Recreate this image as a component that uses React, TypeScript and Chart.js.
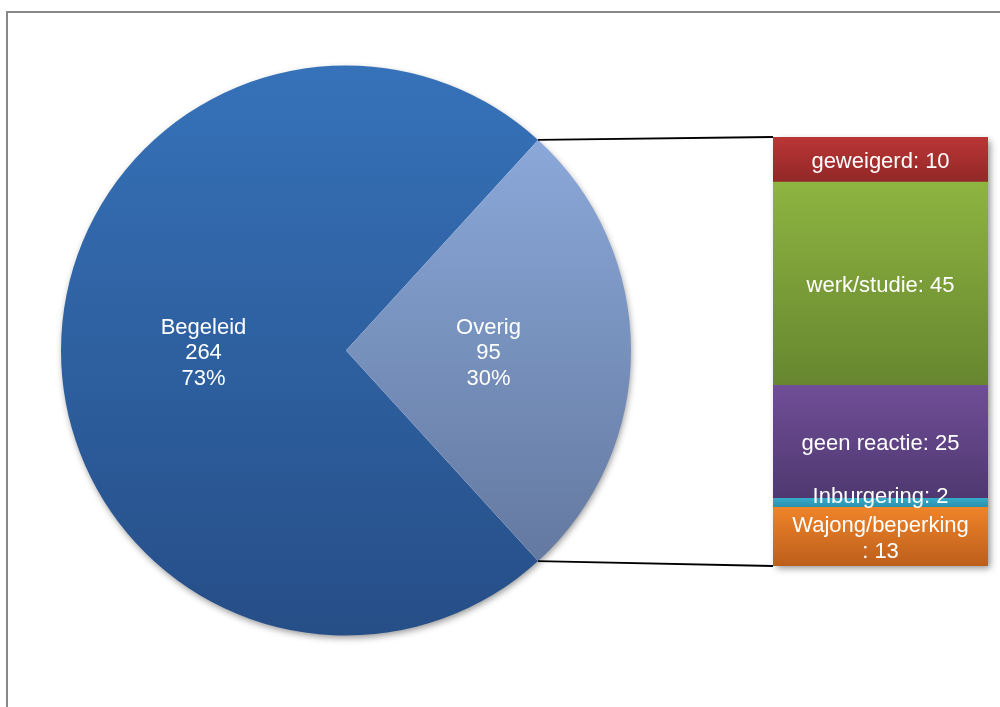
import React, { useEffect, useRef } from 'react';
import { Chart, registerables } from 'chart.js';

Chart.register(...registerables);

// ---- data ----
const pieLabels = ['Begeleid', 'Overig'];
const pieValues = [264, 95];
const piePercentLabels = ['73%', '30%'];

// stacked from bottom to top
const barLabels = ['Wajong/beperking', 'Inburgering', 'geen reactie', 'werk/studie', 'geweigerd'];
const barValues = [13, 2, 25, 45, 10];

// ---- styles ----
const pieColors = [
  ['#3672b9', '#264e87'],
  ['#8aa8d9', '#6479a0'],
];
const barColors = [
  ['#ef842a', '#bc5e1b'],
  ['#35abc9', '#2a90ac'],
  ['#704e97', '#4f3870'],
  ['#8eb441', '#67862f'],
  ['#bb3636', '#922727'],
];
const FONT = "'Liberation Sans', Arial, sans-serif";
const W = 1000;
const H = 707;
const TEXT_DY = 2.5;

const pieTotal = pieValues.reduce((a, b) => a + b, 0);
const barTotal = barValues.reduce((a, b) => a + b, 0);

export default function App() {
  const pieRef = useRef<HTMLCanvasElement | null>(null);
  const barRef = useRef<HTMLCanvasElement | null>(null);

  useEffect(() => {
    if (!pieRef.current || !barRef.current) return;

    const pieShadow = {
      id: 'pieShadow',
      beforeDatasetsDraw(chart: any) {
        const arc = chart.getDatasetMeta(0).data[0];
        if (!arc) return;
        const ctx = chart.ctx;
        ctx.save();
        ctx.shadowColor = 'rgba(0,0,0,0.45)';
        ctx.shadowBlur = 7;
        ctx.shadowOffsetX = 1;
        ctx.shadowOffsetY = 3;
        ctx.fillStyle = '#ffffff';
        ctx.beginPath();
        ctx.arc(arc.x, arc.y, arc.outerRadius - 1, 0, Math.PI * 2);
        ctx.fill();
        ctx.restore();
      },
    };

    const pieLabelPlugin = {
      id: 'pieLabels',
      afterDatasetsDraw(chart: any) {
        const ctx = chart.ctx;
        const meta = chart.getDatasetMeta(0);
        ctx.save();
        ctx.font = `22px ${FONT}`;
        ctx.fillStyle = '#ffffff';
        ctx.textAlign = 'center';
        ctx.textBaseline = 'middle';
        meta.data.forEach((arc: any, i: number) => {
          const mid = (arc.startAngle + arc.endAngle) / 2;
          const r = arc.outerRadius * 0.5;
          const cx = arc.x + Math.cos(mid) * r;
          const cy = arc.y + Math.sin(mid) * r + TEXT_DY;
          const lines = [pieLabels[i], String(pieValues[i]), piePercentLabels[i]];
          const lh = 25.5;
          lines.forEach((t, k) => {
            ctx.fillText(t, cx, cy + (k - (lines.length - 1) / 2) * lh);
          });
        });
        ctx.restore();
      },
    };

    const pieGradient = (context: any) => {
      const chart = context.chart;
      const area = chart.chartArea;
      const i = context.dataIndex;
      if (!area) return pieColors[i][0];
      const cy = (area.top + area.bottom) / 2;
      const r = Math.min(area.right - area.left, area.bottom - area.top) / 2;
      let y0 = cy - r;
      let y1 = cy + r;
      if (i === 1) {
        const half = (pieValues[1] / pieTotal) * Math.PI;
        y0 = cy - r * Math.sin(half);
        y1 = cy + r * Math.sin(half);
      }
      const g = chart.ctx.createLinearGradient(0, y0, 0, y1);
      g.addColorStop(0, pieColors[i][0]);
      g.addColorStop(1, pieColors[i][1]);
      return g;
    };

    // chart area: centre (346,350.5), radius 285
    const pie = new Chart(pieRef.current, {
      type: 'pie',
      data: {
        labels: pieLabels,
        datasets: [
          {
            data: pieValues,
            backgroundColor: pieGradient,
            borderWidth: 0,
          },
        ],
      },
      options: {
        responsive: false,
        animation: false,
        rotation: 90 + (pieValues[1] / pieTotal) * 180,
        layout: { padding: { left: 61, top: 65.5, right: W - 631, bottom: H - 635.5 } },
        plugins: { legend: { display: false }, tooltip: { enabled: false } },
        events: [],
      },
      plugins: [pieShadow, pieLabelPlugin],
    });

    const barGradient = (i: number) => (context: any) => {
      const chart = context.chart;
      const y = chart.scales && chart.scales.y;
      if (!y || !chart.chartArea) return barColors[i][0];
      let start = 0;
      for (let k = 0; k < i; k++) start += barValues[k];
      const end = start + barValues[i];
      const g = chart.ctx.createLinearGradient(0, y.getPixelForValue(end), 0, y.getPixelForValue(start));
      g.addColorStop(0, barColors[i][0]);
      g.addColorStop(1, barColors[i][1]);
      return g;
    };

    const barShadow = {
      id: 'barShadow',
      beforeDatasetsDraw(chart: any) {
        const a = chart.chartArea;
        const y = chart.scales.y;
        const ctx = chart.ctx;
        const top = y.getPixelForValue(barTotal);
        const bottom = y.getPixelForValue(0);
        ctx.save();
        ctx.shadowColor = 'rgba(0,0,0,0.45)';
        ctx.shadowBlur = 7;
        ctx.shadowOffsetX = 3;
        ctx.shadowOffsetY = 3;
        ctx.fillStyle = '#ffffff';
        ctx.fillRect(a.left + 1, top + 1, a.right - a.left - 2, bottom - top - 2);
        ctx.restore();
      },
    };

    const barLabelPlugin = {
      id: 'barLabels',
      afterDatasetsDraw(chart: any) {
        const ctx = chart.ctx;
        ctx.save();
        ctx.font = `22px ${FONT}`;
        ctx.fillStyle = '#ffffff';
        ctx.textAlign = 'center';
        ctx.textBaseline = 'middle';
        const lh = 25.5;
        barLabels.forEach((label, i) => {
          const el: any = chart.getDatasetMeta(i).data[0];
          if (!el) return;
          const full = `${label}: ${barValues[i]}`;
          let lines = [full];
          if (ctx.measureText(full).width > el.width - 12) {
            lines = [label, `: ${barValues[i]}`];
          }
          const segH = Math.abs(el.base - el.y);
          let cy = (el.y + el.base) / 2 + TEXT_DY;
          if (segH < 16) cy -= 8.5;
          lines.forEach((t, k) => {
            ctx.fillText(t, el.x, cy + (k - (lines.length - 1) / 2) * lh);
          });
        });
        ctx.restore();
      },
    };

    const connectors = {
      id: 'connectors',
      afterDraw(chart: any) {
        const arc: any = pie.getDatasetMeta(0).data[1];
        if (!arc) return;
        const y = chart.scales.y;
        const left = chart.chartArea.left;
        const topY = y.getPixelForValue(barTotal);
        const botY = y.getPixelForValue(0);
        const r = arc.outerRadius;
        const p1 = [arc.x + Math.cos(arc.startAngle) * r, arc.y + Math.sin(arc.startAngle) * r];
        const p2 = [arc.x + Math.cos(arc.endAngle) * r, arc.y + Math.sin(arc.endAngle) * r];
        const ctx = chart.ctx;
        ctx.save();
        ctx.strokeStyle = '#000000';
        ctx.lineWidth = 1.8;
        ctx.beginPath();
        ctx.moveTo(p1[0], p1[1]);
        ctx.lineTo(left, topY);
        ctx.moveTo(p2[0], p2[1]);
        ctx.lineTo(left, botY);
        ctx.stroke();
        ctx.restore();
      },
    };

    const bar = new Chart(barRef.current, {
      type: 'bar',
      data: {
        labels: ['Overig'],
        datasets: barLabels.map((label, i) => ({
          label,
          data: [barValues[i]],
          backgroundColor: barGradient(i),
          borderWidth: 0,
          barPercentage: 1,
          categoryPercentage: 1,
        })),
      },
      options: {
        responsive: false,
        animation: false,
        layout: { padding: { left: 773, right: W - 988, top: 137, bottom: H - 566 } },
        scales: {
          x: { stacked: true, display: false },
          y: { stacked: true, display: false, min: 0, max: barTotal },
        },
        plugins: { legend: { display: false }, tooltip: { enabled: false } },
        events: [],
      },
      plugins: [barShadow, barLabelPlugin, connectors],
    });

    return () => {
      bar.destroy();
      pie.destroy();
    };
  }, []);

  return (
    <div
      style={{
        position: 'fixed',
        left: 0,
        top: 0,
        width: W,
        height: H,
        overflow: 'hidden',
        background: '#ffffff',
      }}
    >
      <div
        style={{
          position: 'absolute',
          left: 6,
          top: 11,
          right: -20,
          bottom: -20,
          borderLeft: '2px solid #888888',
          borderTop: '2px solid #888888',
        }}
      />
      <canvas
        ref={pieRef}
        width={W}
        height={H}
        style={{ position: 'absolute', left: 0, top: 0, width: W, height: H }}
      />
      <canvas
        ref={barRef}
        width={W}
        height={H}
        style={{ position: 'absolute', left: 0, top: 0, width: W, height: H }}
      />
    </div>
  );
}
